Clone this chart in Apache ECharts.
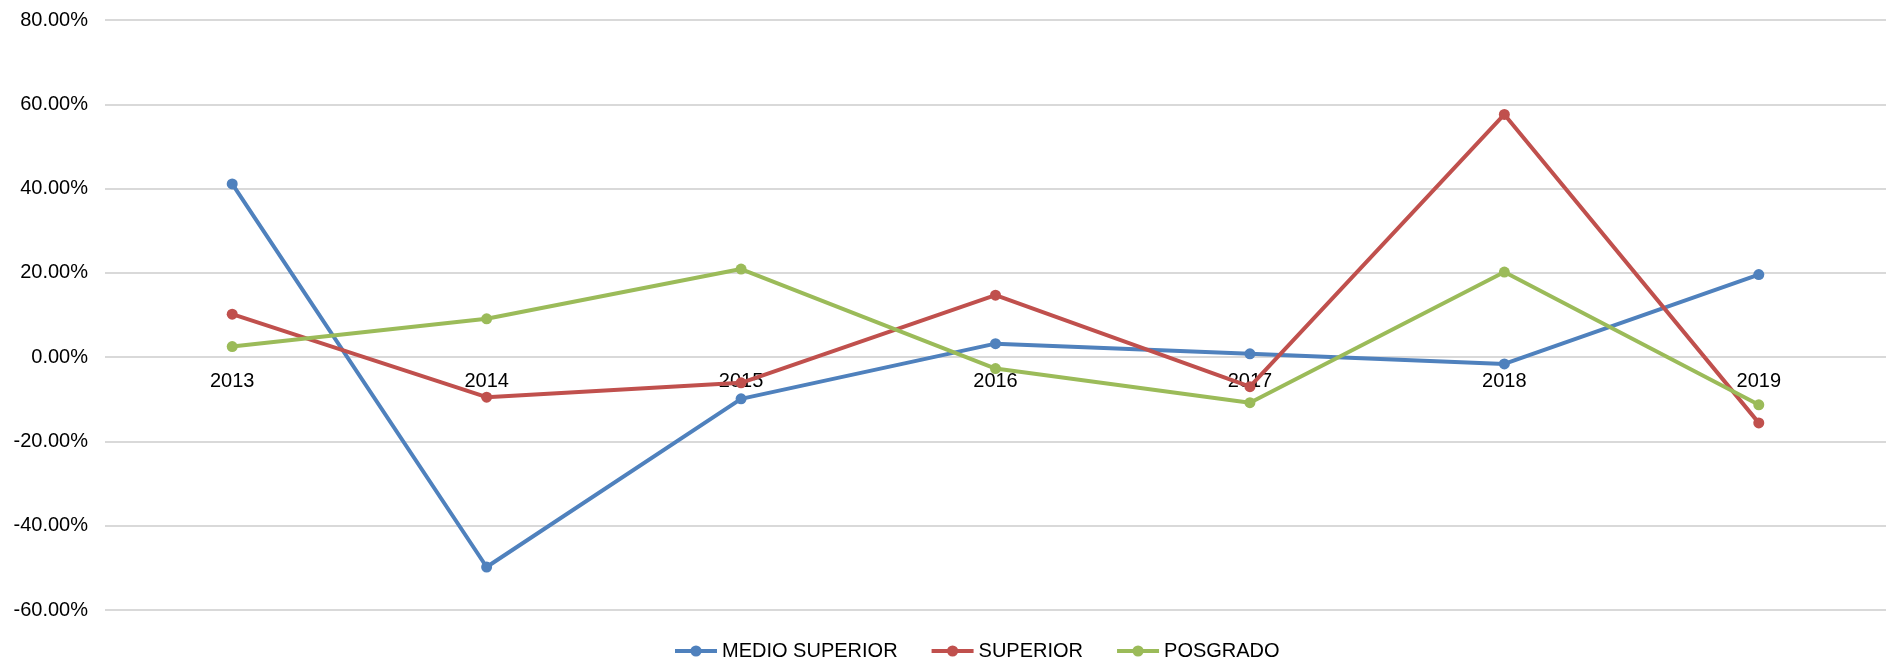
<!DOCTYPE html>
<html>
<head>
<meta charset="utf-8">
<script src="https://cdn.jsdelivr.net/npm/echarts@6/dist/echarts.min.js"></script>
<style>
  html, body { margin: 0; padding: 0; background: #fff; }
  #main { width: 1886px; height: 660px; }
</style>
</head>
<body>
<div id="main"></div>
<script>
// datos (variacion anual, %)
var years = ['2013', '2014', '2015', '2016', '2017', '2018', '2019'];
var medioSuperior = [41.1, -49.8, -9.9, 3.2, 0.8, -1.6, 19.6];
var superior = [10.2, -9.5, -6.1, 14.7, -7.0, 57.6, -15.6];
var posgrado = [2.5, 9.1, 20.9, -2.7, -10.8, 20.2, -11.3];
var seriesNames = ['MEDIO SUPERIOR', 'SUPERIOR', 'POSGRADO'];
var colors = ['#4F81BD', '#C0504D', '#9BBB59'];

var yMin = -60, yMax = 80;
var gridTop = 20, gridHeight = 590;

var myChart = echarts.init(document.getElementById('main'));

function linea(name, data) {
  return {
    name: name,
    type: 'line',
    data: data,
    symbol: 'circle',
    symbolSize: 11,
    lineStyle: { width: 4 },
    emphasis: { disabled: true }
  };
}

var option = {
  animation: false,
  color: colors,
  textStyle: { fontFamily: 'Liberation Sans, Arial, sans-serif' },
  grid: {
    left: 105,
    top: gridTop,
    width: 1805,
    height: gridHeight,
    containLabel: false
  },
  legend: {
    data: seriesNames,
    left: 668,
    top: 636,
    itemWidth: 42,
    itemHeight: 14,
    itemGap: 32,
    lineStyle: { width: 4 },
    textStyle: { fontSize: 20, color: '#000' }
  },
  xAxis: {
    type: 'category',
    data: years,
    boundaryGap: true,
    // las etiquetas van sobre la linea del 0
    offset: -gridHeight * (0 - yMin) / (yMax - yMin),
    axisLine: { show: false, onZero: false },
    axisTick: { show: false },
    axisLabel: { fontSize: 20, color: '#000', margin: 14 }
  },
  yAxis: {
    type: 'value',
    min: yMin,
    max: yMax,
    interval: 20,
    axisLine: { show: false },
    axisTick: { show: false },
    splitLine: { lineStyle: { color: '#d9d9d9', width: 2 } },
    axisLabel: {
      fontSize: 20,
      color: '#000',
      margin: 17,
      formatter: function (v) { return v.toFixed(2) + '%'; }
    }
  },
  series: [
    linea(seriesNames[0], medioSuperior),
    linea(seriesNames[1], superior),
    linea(seriesNames[2], posgrado)
  ]
};

myChart.setOption(option);
</script>
</body>
</html>
